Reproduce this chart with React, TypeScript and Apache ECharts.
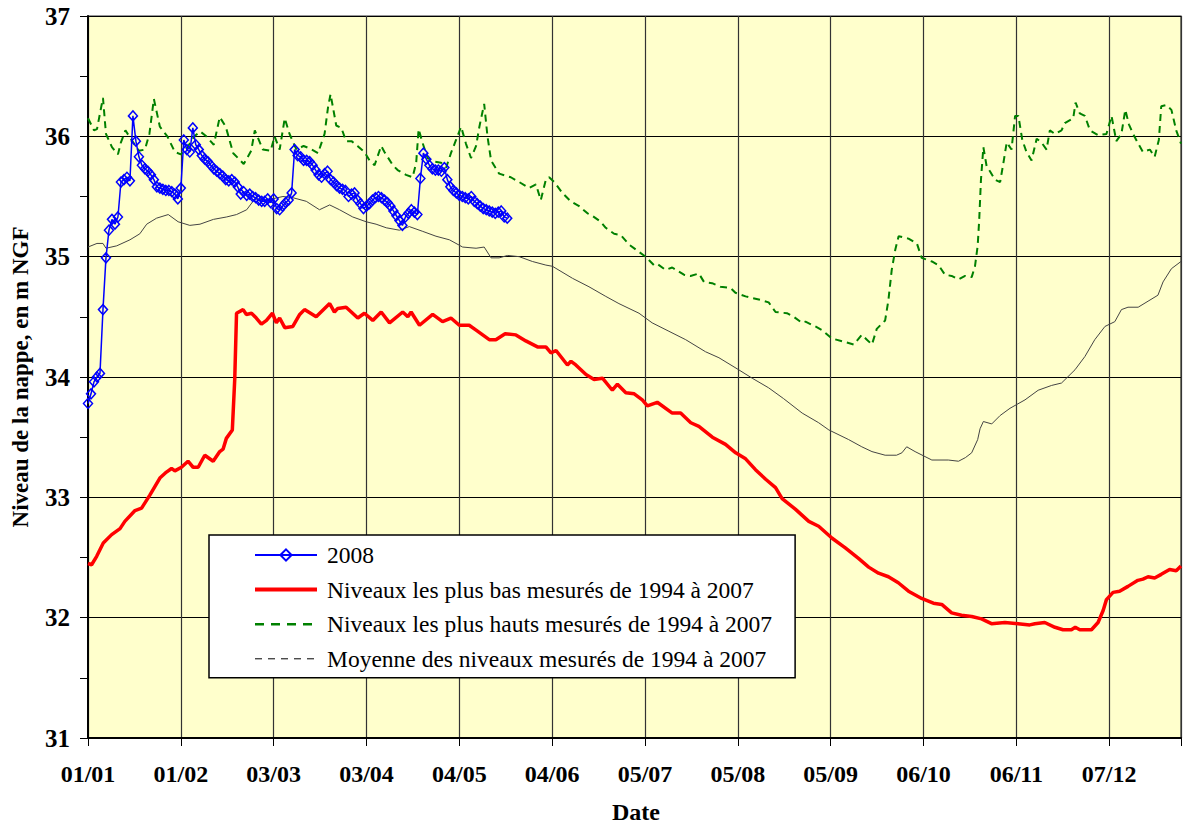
import React, { useEffect, useRef } from "react";
import * as echarts from "echarts";

// X axis: day of year (0 = 01/01/2008), ticks every 31 days
const tickLabels = ["01/01", "01/02", "03/03", "03/04", "04/05", "04/06", "05/07", "05/08", "05/09", "06/10", "06/11", "07/12"];

// 2008 daily measurements (day 0 .. 140)
const level2008 = [
  33.78, 33.86, 33.96, 34.0, 34.03, 34.56, 34.99, 35.22, 35.31, 35.27,
  35.33, 35.62, 35.64, 35.66, 35.63, 36.17, 35.96, 35.83, 35.76, 35.73,
  35.71, 35.68, 35.64, 35.58, 35.57, 35.56, 35.55, 35.55, 35.54, 35.52,
  35.48, 35.57, 35.97, 35.89, 35.87, 36.07, 35.93, 35.89, 35.84, 35.81,
  35.79, 35.76, 35.73, 35.71, 35.69, 35.67, 35.64, 35.63, 35.64, 35.62,
  35.58, 35.52, 35.54, 35.51, 35.52, 35.5, 35.49, 35.47, 35.46, 35.46,
  35.48, 35.45, 35.48, 35.4, 35.39, 35.42, 35.45, 35.47, 35.53, 35.89,
  35.84, 35.83, 35.8, 35.8, 35.79, 35.76, 35.72, 35.68, 35.66, 35.69,
  35.71, 35.64, 35.62, 35.59, 35.57, 35.56, 35.55, 35.5, 35.52, 35.53,
  35.47, 35.44, 35.4, 35.42, 35.44, 35.47, 35.49, 35.5, 35.49, 35.47,
  35.45, 35.42, 35.38, 35.34, 35.3, 35.26, 35.33, 35.36, 35.39, 35.37,
  35.35, 35.65, 35.86, 35.81, 35.76, 35.73, 35.72, 35.72, 35.71, 35.74,
  35.64, 35.58, 35.55, 35.53, 35.51, 35.5, 35.49, 35.48, 35.5, 35.46,
  35.44, 35.42, 35.4, 35.39, 35.38, 35.37, 35.36, 35.37, 35.38, 35.33,
  35.32,
];

// Lowest levels 1994-2007
const minDays = [
  0, 1.2, 2.9, 5.1, 7.9, 10.7, 12.3, 15.7, 17.9, 20.7, 24, 26.2, 27.9, 29, 31.2, 33.4, 35.1, 36.8, 39, 41.8,
  44, 45.1, 46.2, 48.2, 49, 49.6, 51.8, 52.9, 54.6, 56.2, 57.9, 59.6, 61.6, 62.9, 64, 65.7, 68.4, 70.7, 72.3, 76.2,
  80.7, 82.3, 83.4, 86.2, 90.1, 92.3, 95.1, 97.9, 100.7, 105.1, 106.8, 107.9, 110.7, 115.1, 118.4, 121.2, 124, 127.3, 129.6, 134,
  136.2, 139.3, 142.9, 146.2, 150.1, 152.9, 154.6, 156.3, 160.1, 161.3, 162.9, 166.3, 169, 171.8, 175.1, 176.8, 179.6, 182.4, 185.1, 186.8,
  190.1, 195.1, 197.9, 201.3, 204, 208.5, 212.9, 216.3, 219.6, 222.9, 226.3, 229.6, 231.8, 236.3, 240.7, 244, 248.5, 252.9, 257.4, 260.7,
  264, 267.3, 270.6, 274, 278.4, 282.3, 285.1, 288.4, 291.7, 295.1, 298.4, 301.7, 306.2, 310.6, 314.5, 316.2, 319.5, 322.9, 325.6, 328.4,
  329.7, 331.2, 335.1, 337.3, 339, 340.1, 342.3, 344.5, 347.3, 350.6, 352.3, 354, 356.2, 358.4, 361.2, 363.4, 365,
];
const minLevels = [
  32.45, 32.44, 32.51, 32.62, 32.69, 32.74, 32.8, 32.89, 32.91, 33.02, 33.16, 33.21, 33.24, 33.22, 33.25, 33.3, 33.25, 33.25, 33.35, 33.3,
  33.38, 33.4, 33.49, 33.56, 33.98, 34.53, 34.56, 34.52, 34.53, 34.49, 34.44, 34.47, 34.53, 34.45, 34.49, 34.41, 34.42, 34.52, 34.56, 34.5,
  34.61, 34.54, 34.57, 34.58, 34.49, 34.53, 34.47, 34.54, 34.45, 34.54, 34.5, 34.54, 34.43, 34.52, 34.46, 34.49, 34.43, 34.43, 34.39, 34.31,
  34.31, 34.36, 34.35, 34.3, 34.25, 34.25, 34.2, 34.22, 34.1, 34.13, 34.1, 34.02, 33.98, 33.99, 33.89, 33.94, 33.87, 33.86, 33.81, 33.76,
  33.79, 33.7, 33.7, 33.62, 33.59, 33.5, 33.44, 33.37, 33.32, 33.23, 33.15, 33.08, 32.99, 32.9, 32.8, 32.76, 32.66, 32.58, 32.49, 32.42,
  32.37, 32.34, 32.29, 32.22, 32.16, 32.12, 32.11, 32.04, 32.02, 32.01, 31.99, 31.95, 31.96, 31.95, 31.94, 31.95, 31.96, 31.92, 31.9, 31.9,
  31.92, 31.9, 31.9, 31.96, 32.06, 32.15, 32.21, 32.22, 32.26, 32.31, 32.32, 32.34, 32.33, 32.36, 32.4, 32.39, 32.43,
];

// Highest levels 1994-2007
const maxDays = [
  0, 2, 3, 5, 6, 8, 10, 11, 12.5, 14.5, 17, 19, 20.5, 22, 24, 26.5, 29, 31, 33, 35.5,
  37.5, 39.5, 42, 44, 46, 48.5, 52, 54.5, 55.7, 58.4, 61, 62.3, 64, 65.7, 67.3, 69.6, 72, 74, 76.8, 79,
  80.2, 81, 82.9, 84.6, 86.2, 88, 90, 92.3, 94, 95.7, 97.9, 99, 101.8, 103.4, 106.2, 108.4, 109.6, 110.4, 111.8, 113.4,
  115.7, 117.9, 119.6, 121.2, 122.9, 124.6, 126.2, 127.9, 129.6, 130.7, 132.3, 133.4, 134.6, 137.3, 141.2, 144, 147.3, 149.6, 151.2, 152.9,
  154, 155.7, 158.4, 161.2, 164, 166.8, 168.4, 171.2, 172.9, 175.7, 177.9, 180.7, 182.9, 186.2, 189, 190.1, 192.9, 195.1, 199, 201.2,
  204, 205.7, 208.4, 211.2, 214.6, 216.2, 219.6, 221.2, 224.6, 227.3, 229.6, 233.4, 235.7, 238.4, 239.6, 242.9, 245.1, 248.4, 252.9, 255.7,
  258.4, 260.1, 261.8, 263.4, 266.2, 267.3, 268.4, 269.6, 270.7, 274, 276.8, 278.4, 281.8, 284, 286.2, 288.4, 290.7, 292.9, 295.1, 296.2,
  297.1, 297.6, 298.2, 299, 300.1, 301.2, 302.9, 304.6, 305.7, 306.8, 308.4, 309.6, 310.7, 312, 313.4, 315.1, 316.8, 318.4, 320.1, 321.2,
  322.9, 325.1, 326.2, 329, 329.8, 331.2, 332.9, 334.6, 337.3, 340.1, 341.8, 343.4, 345.1, 346.4, 347.6, 349, 350.7, 352.3, 354.6, 356.2,
  357.6, 358.4, 360.1, 361.8, 363.4, 365,
];
const maxLevels = [
  36.15, 36.05, 36.06, 36.32, 36.02, 35.91, 35.85, 35.95, 36.05, 35.97, 35.88, 35.89, 36.02, 36.31, 36.08, 36.0, 35.87, 35.85, 35.9, 36.0,
  36.04, 36.0, 35.93, 36.16, 36.08, 35.86, 35.77, 35.88, 36.05, 35.89, 35.88, 36.0, 35.89, 36.15, 36.02, 35.89, 35.92, 35.9, 35.86, 36.02,
  36.25, 36.35, 36.09, 36.07, 35.96, 35.96, 35.92, 35.87, 35.8, 35.76, 35.92, 35.87, 35.76, 35.72, 35.68, 35.66, 35.78, 36.06, 35.94, 35.82,
  35.79, 35.78, 35.74, 35.86, 35.97, 36.08, 35.94, 35.82, 35.92, 36.08, 36.27, 36.0, 35.8, 35.69, 35.66, 35.62, 35.57, 35.6, 35.47, 35.64,
  35.66, 35.62, 35.53, 35.46, 35.42, 35.36, 35.34, 35.29, 35.24, 35.19, 35.18, 35.1, 35.06, 35.0, 34.93, 34.94, 34.89, 34.91, 34.85, 34.84,
  34.86, 34.79, 34.78, 34.75, 34.74, 34.7, 34.67, 34.66, 34.64, 34.62, 34.54, 34.53, 34.5, 34.45, 34.46, 34.42, 34.39, 34.32, 34.29, 34.27,
  34.35, 34.31, 34.27, 34.4, 34.47, 34.64, 34.89, 35.06, 35.17, 35.15, 35.11, 34.99, 34.96, 34.93, 34.85, 34.84, 34.81, 34.84, 34.83, 34.92,
  35.09, 35.3, 35.64, 35.91, 35.75, 35.71, 35.64, 35.62, 35.78, 35.95, 35.89, 36.17, 36.17, 35.97, 35.87, 35.8, 35.98, 35.95, 35.89, 36.05,
  36.02, 36.05, 36.11, 36.15, 36.28, 36.19, 36.17, 36.05, 36.01, 36.02, 36.17, 35.96, 36.02, 36.22, 36.1, 36.02, 35.94, 35.87, 35.89, 35.83,
  35.97, 36.25, 36.26, 36.22, 36.05, 35.94,
];

// Mean levels 1994-2007
const meanDays = [
  0, 3, 5, 6, 9.6, 14, 17.3, 19.6, 22.9, 26.8, 30.1, 34, 37.4, 41.9, 46.3, 49.6, 53, 55.7, 59.6, 65.1,
  68.4, 72.9, 77.3, 80.7, 84, 88.4, 92.9, 96.2, 99.6, 104, 107.3, 111.8, 116.2, 120.7, 125.1, 129.6, 132.3, 134.6, 137.3, 140.1,
  144, 148.4, 152.9, 155.1, 161.8, 167.3, 172.9, 177.3, 184, 188.4, 194, 199.6, 206.2, 210.7, 217.3, 221.8, 227.3, 232.3, 238.5, 244,
  247.4, 254, 258.4, 261.8, 266.2, 270, 271.8, 273.4, 276.2, 281.8, 287.3, 290.7, 293, 295.1, 297.1, 297.9, 299, 301.8, 304.6, 307.9,
  312.9, 317.3, 321.8, 325.1, 329.6, 332.9, 336.2, 339.6, 342.9, 345.1, 347.3, 350.7, 354, 357.3, 359, 361.8, 365,
];
const meanLevels = [
  35.08, 35.11, 35.11, 35.07, 35.09, 35.14, 35.19, 35.27, 35.32, 35.35, 35.29, 35.26, 35.27, 35.31, 35.33, 35.35, 35.39, 35.48, 35.47, 35.5,
  35.49, 35.46, 35.39, 35.43, 35.39, 35.33, 35.29, 35.27, 35.24, 35.22, 35.25, 35.21, 35.17, 35.14, 35.08, 35.07, 35.08, 34.99, 34.99, 35.01,
  35.0, 34.96, 34.93, 34.92, 34.82, 34.75, 34.67, 34.61, 34.53, 34.45, 34.38, 34.31, 34.21, 34.16, 34.06, 33.99, 33.91, 33.82, 33.7, 33.62,
  33.56, 33.48, 33.42, 33.38, 33.35, 33.35, 33.37, 33.42, 33.38, 33.31, 33.31, 33.3, 33.33, 33.37, 33.48, 33.57, 33.63, 33.61, 33.68, 33.74,
  33.81, 33.89, 33.93, 33.95, 34.06, 34.17, 34.31, 34.42, 34.46, 34.56, 34.58, 34.58, 34.63, 34.68, 34.79, 34.9, 34.96,
];

const NAME_2008 = "2008";
const NAME_MIN = "Niveaux les plus bas mesurés de 1994 à 2007";
const NAME_MAX = "Niveaux les plus hauts mesurés de 1994 à 2007";
const NAME_MEAN = "Moyenne des niveaux mesurés de 1994 à 2007";

const zip = (xs: number[], ys: number[]) => xs.map((x, i) => [x, ys[i]]);

export default function App() {
  const ref = useRef<HTMLDivElement>(null);

  useEffect(() => {
    if (!ref.current) return;
    const chart = echarts.init(ref.current, null, { renderer: "svg" });
    const serif = "'Liberation Serif', 'Times New Roman', serif";
    const noSymbol = { color: "rgba(0,0,0,0)", borderColor: "rgba(0,0,0,0)", borderWidth: 0, opacity: 0 };

    const option: any = {
      animation: false,
      backgroundColor: "#ffffff",
      grid: {
        left: 88,
        top: 16,
        width: 1095,
        height: 722,
        show: true,
        backgroundColor: "#FFFFCC",
        borderColor: "#333",
        borderWidth: 1.2,
      },
      xAxis: {
        type: "value",
        min: 0,
        max: 365,
        interval: 31,
        axisLine: { show: true, onZero: false, lineStyle: { color: "#000", width: 2 } },
        axisTick: { show: true, inside: false, length: 8, lineStyle: { color: "#000", width: 1 } },
        axisLabel: {
          margin: 24,
          fontFamily: serif,
          fontWeight: "bold",
          fontSize: 24,
          color: "#000",
          formatter: (v: number) => {
            const i = Math.round(v / 31);
            return Math.abs(v - i * 31) < 1e-6 && i < tickLabels.length ? tickLabels[i] : "";
          },
        },
        splitLine: { show: true, lineStyle: { color: "#333", width: 1.2 } },
      },
      yAxis: {
        type: "value",
        min: 31,
        max: 37,
        interval: 1,
        axisLine: { show: true, lineStyle: { color: "#000", width: 2 } },
        axisTick: { show: true, inside: false, length: 8, lineStyle: { color: "#000", width: 1 } },
        minorTick: { show: true, splitNumber: 2, length: 8, lineStyle: { color: "#000", width: 1 } },
        axisLabel: {
          margin: 18,
          fontFamily: serif,
          fontWeight: "bold",
          fontSize: 25,
          color: "#000",
        },
        splitLine: { show: true, lineStyle: { color: "#000", width: 1.2 } },
      },
      legend: {
        orient: "vertical",
        left: 209,
        top: 535,
        padding: [8, 23, 7, 44],
        itemWidth: 62,
        itemHeight: 14,
        itemGap: 10.6,
        backgroundColor: "#ffffff",
        borderColor: "#000",
        borderWidth: 1.5,
        borderRadius: 0,
        selectedMode: false,
        textStyle: {
          fontFamily: serif,
          fontSize: 23.5,
          lineHeight: 23,
          color: "#000",
          padding: [0, 0, 0, 5],
        },
        data: [
          { name: NAME_2008 },
          { name: NAME_MIN, itemStyle: noSymbol, lineStyle: { width: 4 } },
          { name: NAME_MAX, itemStyle: noSymbol, lineStyle: { type: [9, 7], width: 2.5 } },
          { name: NAME_MEAN, itemStyle: noSymbol, lineStyle: { type: [7, 6], width: 1, color: "#000" } },
        ],
      },
      graphic: [
        {
          type: "text",
          left: 612,
          top: 800,
          style: { text: "Date", font: `bold 24px ${serif}`, fill: "#000" },
        },
        {
          type: "text",
          x: 20,
          y: 377,
          rotation: Math.PI / 2,
          style: {
            text: "Niveau de la nappe, en m NGF",
            font: `bold 23px ${serif}`,
            fill: "#000",
            align: "center",
            verticalAlign: "middle",
          },
        },
      ],
      series: [
        {
          name: NAME_MIN,
          type: "line",
          data: zip(minDays, minLevels),
          symbol: "none",
          lineStyle: { color: "#FF0000", width: 3.5 },
          itemStyle: { color: "#FF0000" },
        },
        {
          name: NAME_MAX,
          type: "line",
          data: zip(maxDays, maxLevels),
          symbol: "none",
          lineStyle: { color: "#008000", width: 2, type: [7, 5] },
          itemStyle: { color: "#008000" },
        },
        {
          name: NAME_MEAN,
          type: "line",
          data: zip(meanDays, meanLevels),
          symbol: "none",
          lineStyle: { color: "#444", width: 1 },
          itemStyle: { color: "#444" },
        },
        {
          name: NAME_2008,
          type: "line",
          data: level2008.map((v, i) => [i, v]),
          symbol: "diamond",
          symbolSize: [9, 10],
          showSymbol: true,
          lineStyle: { color: "#0000FF", width: 1.5 },
          itemStyle: { color: "rgba(0,0,0,0)", borderColor: "#0000FF", borderWidth: 1.5 },
        },
      ],
    };
    chart.setOption(option);
    return () => chart.dispose();
  }, []);

  return (
    <div
      ref={ref}
      style={{ position: "absolute", left: 0, top: 0, width: 1184, height: 827 }}
    />
  );
}
